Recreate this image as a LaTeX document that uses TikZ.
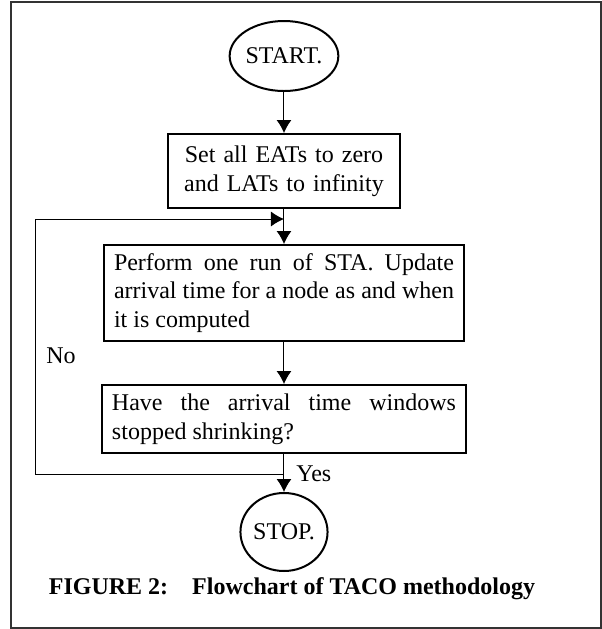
\documentclass[tikz,border=0pt]{standalone}
\usepackage{fontspec}
\setmainfont{Liberation Serif}
\usetikzlibrary{shapes.geometric,positioning,arrows.meta}

\begin{document}
\begin{tikzpicture}[
  x=0.5pt, y=-0.5pt,
  font=\fontsize{12}{14.3}\selectfont,
  node distance=20pt,
  terminal/.style={draw,ellipse,line width=1pt,inner sep=0pt},
  stepbox/.style={draw,rectangle,line width=1pt,inner xsep=5pt,inner ysep=4pt,
    execute at begin node={\hyphenpenalty=10000\exhyphenpenalty=10000\tolerance=9999}},
  flow/.style={line width=0.5pt,-{Latex[length=6.5pt,width=7.5pt]}},
  lbl/.style={inner sep=0pt}
]
\useasboundingbox (0,0) rectangle (602,629);
\draw[line width=0.8pt,black!80] (11,2) rectangle (601,628);

\node[terminal,minimum width=40.5pt,minimum height=35pt] (start) at (284,56) {START.};
\node[stepbox,below=20.5pt of start,text width=106pt,align=center,minimum height=37pt] (init)
  {Set all EATs to zero and LATs to infinity};
\node[stepbox,below=17.5pt of init,text width=170pt,align=justify,minimum height=48pt] (sta)
  {Perform one run of STA. Update arrival time for a node as and when it is computed};
\node[stepbox,below=21pt of sta,text width=172pt,align=justify,minimum height=34pt] (check)
  {Have the arrival time windows stopped shrinking?};
\node[terminal,below=19pt of check,minimum width=42pt,minimum height=39pt] (stop) {STOP.};
\node[lbl,font=\fontsize{12}{14.3}\selectfont\bfseries] (caption) at (292,589)
  {FIGURE 2:\quad Flowchart of TACO methodology};

\draw[flow] (start) -- (init);
\draw[flow] (init) -- (sta);
\draw[flow] (sta) -- (check);
\draw[flow] (check) -- (stop);

% loop back when the windows still shrink
\coordinate[below=5pt of init.south] (merge);
\coordinate[below=10pt of check.south] (yesjn);
\coordinate (noline) at (36,0);
\draw[flow] (yesjn) -- (yesjn -| noline) |- (merge);

\node[lbl,right=6pt of yesjn] (yes) {Yes};
\node[lbl] (no) at (61,356) {No};

\end{tikzpicture}
\end{document}
